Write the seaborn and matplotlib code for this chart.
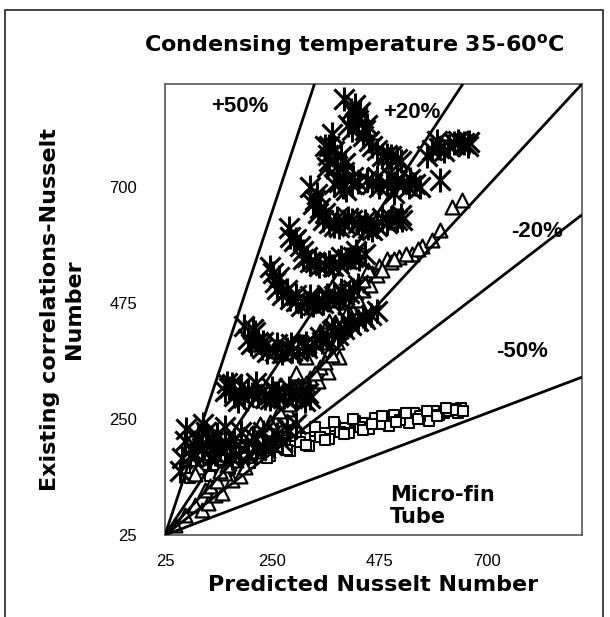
import numpy as np
import pandas as pd
import matplotlib
matplotlib.use("Agg")
import matplotlib.pyplot as plt
import seaborn as sns
from matplotlib.patches import Rectangle

# Smooth-tube style correlation (asterisks)
star_pred = [423, 427, 448, 418, 454, 469, 490, 511, 375, 366, 364, 343, 335,
             398, 418, 448, 475, 511, 538, 586, 601, 632, 653, 663, 402, 506,
             356, 391, 418, 439, 460, 511, 523,
             287, 308, 322, 349, 377, 406, 433,
             251, 259, 287, 322, 356, 391, 412,
             213, 199, 228, 255, 291, 324, 354, 387, 416, 458,
             165, 151, 178, 207, 234, 262, 291, 318,
             115, 102, 130, 165, 199, 234, 67, 77, 56,
             85, 95, 110, 125, 140, 150, 180, 215, 250, 270,
             160, 170, 190, 200, 220, 245, 255, 275, 300, 330,
             205, 220, 240, 270, 280, 305, 315, 340, 365, 375, 400, 430, 445,
             255, 270, 300, 310, 335, 345, 370, 380, 400, 420, 430,
             295, 315, 330, 360, 390, 420, 445,
             340, 345, 370, 380, 400, 430, 450, 470, 490, 500,
             380, 390, 405, 430, 460, 490, 525, 550, 560,
             370, 380, 395, 410, 435, 440, 460, 480, 500, 520, 600, 610, 640, 660,
             60, 70, 90, 105, 120, 135, 150, 170, 185, 210, 230, 260, 280, 300,
             155, 185, 215, 250, 285, 310, 325,
             190, 210, 230, 260, 290, 320, 350, 380, 410, 440, 470,
             245, 265, 280, 300, 330, 365, 395,
             285, 300, 315, 340, 370, 395, 425,
             330, 350, 360, 385, 410, 445, 480, 520,
             360, 370, 385, 400, 420, 470, 500, 540, 575, 595, 620, 400, 415,
             430, 445]
star_exist = [860, 835, 821, 810, 790, 771, 763, 754, 802, 763, 738, 687, 667,
              700, 706, 713, 700, 713, 700, 771, 713, 785, 785, 788, 746, 688,
              637, 623, 637, 623, 617, 637, 637,
              604, 585, 565, 546, 546, 560, 560,
              533, 502, 483, 475, 475, 483, 494,
              419, 406, 387, 381, 381, 387, 400, 413, 433, 452,
              317, 304, 285, 298, 290, 298, 298, 285,
              213, 194, 183, 175, 183, 194, 208, 179, 150,
              200, 215, 225, 205, 190, 200, 180, 190, 200, 205,
              310, 295, 292, 305, 295, 288, 300, 292, 292, 290,
              395, 400, 380, 378, 385, 382, 392, 395, 405, 420, 425, 440, 445,
              515, 490, 478, 470, 472, 478, 480, 488, 490, 500, 510,
              595, 575, 555, 548, 550, 565, 570,
              675, 650, 630, 625, 630, 630, 620, 625, 630, 640,
              705, 710, 695, 710, 705, 705, 710, 705, 700,
              780, 770, 760, 820, 845, 800, 780, 760, 760, 750, 775, 770, 790, 780,
              175, 230, 180, 240, 175, 220, 235, 210, 225, 215, 225, 220, 230, 240,
              320, 315, 320, 310, 310, 305, 300,
              430, 425, 400, 395, 395, 398, 410, 425, 440, 450, 460,
              545, 525, 500, 490, 488, 490, 500,
              620, 600, 560, 555, 555, 565, 575,
              700, 660, 650, 640, 640, 635, 640, 645,
              780, 750, 740, 730, 720, 720, 720, 715, 760, 790, 780, 870, 850,
              830, 810]

# Second correlation (open triangles)
tri_pred = [46, 67, 88, 102, 115, 130, 144, 165, 182, 192, 213, 234, 255, 270,
            291, 318, 345, 366, 391, 427, 448, 460, 475, 490, 517, 544, 565,
            586, 601, 628, 649, 381, 402, 412, 360, 94, 88, 109,
            120, 135, 150, 160, 175, 190, 200, 220, 240, 260, 280, 300, 310,
            330, 350, 370, 385, 395, 420, 430, 440, 455, 470, 500, 530, 555,
            140, 155, 170, 185, 205, 225, 245, 265, 285, 305, 320, 340, 360,
            375, 400, 410, 420, 440, 450, 480, 505, 350, 370, 320, 300]
tri_exist = [44, 63, 83, 73, 87, 102, 106, 131, 140, 156, 188, 208, 223, 233,
             252, 298, 323, 342, 371, 508, 521, 533, 546, 560, 565, 571, 585,
             598, 617, 662, 675, 438, 467, 477, 400, 156, 144, 112,
             120, 130, 145, 165, 170, 185, 200, 215, 230, 250, 270, 290, 300,
             330, 350, 380, 400, 420, 460, 480, 500, 510, 530, 555, 570, 580,
             150, 160, 180, 200, 220, 240, 245, 265, 280, 310, 320, 340, 360,
             375, 440, 460, 500, 520, 540, 540, 560, 420, 440, 370, 340]

# Third correlation (open squares)
sq_pred = [67, 88, 109, 130, 151, 172, 192, 213, 234, 255, 276, 297, 318, 339,
           360, 381, 402, 423, 444, 465, 485, 506, 527, 548, 569, 590, 611,
           632, 647,
           77, 119, 161, 203, 245, 287, 328, 370, 412, 454, 496, 538, 580,
           98, 140, 182, 224, 266, 308, 350, 392, 434, 476, 518, 560, 600,
           620, 640,
           110, 125, 145, 165, 185, 200, 220, 240, 260, 280, 300, 320, 340,
           360, 380, 400, 420, 440, 460, 480, 510, 530, 555, 575, 595, 615,
           635, 650]
sq_exist = [150, 169, 160, 179, 169, 188, 185, 198, 194, 208, 204, 217, 213,
            227, 223, 237, 233, 246, 242, 252, 246, 258, 252, 262, 258, 265,
            262, 269, 271,
            135, 140, 154, 165, 179, 188, 198, 212, 223, 231, 237, 242, 246,
            180, 170, 175, 185, 195, 205, 215, 225, 235, 240, 248, 255, 258,
            265, 262,
            195, 160, 190, 165, 200, 175, 200, 175, 215, 190, 225, 200, 235,
            210, 245, 220, 250, 228, 240, 255, 245, 262, 250, 265, 255, 272,
            268, 265]

# Deviation bands: label and ratio of existing to predicted, measured from (25, 25)
band_labels = ["+50%", "+20%", "", "-20%", "-50%"]
band_slopes = [2.79, 1.40, 1.0, 0.71, 0.35]

axis_ticks = [25, 250, 475, 700]
axis_min, axis_max = 25, 900

sns.set_style("white")
plt.rcParams["font.family"] = ["Liberation Sans", "DejaVu Sans"]
plt.rcParams["text.color"] = "black"
plt.rcParams["axes.labelcolor"] = "black"
plt.rcParams["xtick.color"] = "black"
plt.rcParams["ytick.color"] = "black"

fig = plt.figure(figsize=(6.10, 6.17), dpi=100)
ax = fig.add_axes([0.2705, 0.1329, 0.6836, 0.7310])

# outer frame of the chart area
fig.patches.append(Rectangle((5 / 610, -0.05), 598 / 610, 1.05 - 10 / 617,
                             transform=fig.transFigure, fill=False,
                             edgecolor="#222222", linewidth=1.2))

stars = pd.DataFrame({"pred": star_pred, "exist": star_exist})
tris = pd.DataFrame({"pred": tri_pred, "exist": tri_exist})
sqs = pd.DataFrame({"pred": sq_pred, "exist": sq_exist})

sns.scatterplot(data=sqs, x="pred", y="exist", ax=ax, marker="s", s=60,
                facecolor="white", edgecolor="black", linewidth=1.5, zorder=3)
sns.scatterplot(data=tris, x="pred", y="exist", ax=ax, marker="^", s=100,
                facecolor="white", edgecolor="black", linewidth=1.6, zorder=3)
sns.scatterplot(data=stars, x="pred", y="exist", ax=ax, marker="x", s=210,
                color="black", linewidth=2.2, zorder=4)
sns.scatterplot(data=stars, x="pred", y="exist", ax=ax, marker="|", s=290,
                color="black", linewidth=2.2, zorder=4)

span = axis_max - axis_min
for k in band_slopes:
    x_end = min(axis_max, axis_min + span / k)
    y_end = axis_min + k * (x_end - axis_min)
    ax.plot([axis_min, x_end], [axis_min, y_end], color="black", lw=2.0,
            zorder=5, solid_capstyle="butt")

ax.set_xlim(axis_min, axis_max)
ax.set_ylim(axis_min, axis_max)
ax.set_xticks(axis_ticks)
ax.set_yticks(axis_ticks)
ax.set_xticklabels([str(t) for t in axis_ticks], fontsize=12)
ax.set_yticklabels([str(t) for t in axis_ticks], fontsize=12)
ax.tick_params(axis="both", direction="out", length=4, width=1,
               color="#333333")
ax.tick_params(axis="x", pad=10)
ax.tick_params(axis="y", pad=16)
for side in ["left", "bottom", "right", "top"]:
    ax.spines[side].set_color("#555555")
    ax.spines[side].set_linewidth(1.2)

ax.set_xlabel("Predicted Nusselt Number", fontsize=16, fontweight="bold",
              family="DejaVu Sans", labelpad=4)
ax.set_ylabel("Existing correlations-Nusselt\nNumber", fontsize=16,
              fontweight="bold", family="DejaVu Sans", labelpad=18,
              linespacing=1.25)
fig.text(0.58, 0.927, "Condensing temperature 35-60$^\\mathregular{o}$C",
         ha="center", va="center", fontsize=16, fontweight="bold",
         family="DejaVu Sans")

label_pos = {"+50%": (0.18, 0.949), "+20%": (0.592, 0.936),
             "-20%": (0.892, 0.672), "-50%": (0.856, 0.406)}
for lab in band_labels:
    if lab:
        ax.text(*label_pos[lab], lab, transform=ax.transAxes, ha="center",
                va="center", fontsize=16, fontweight="bold", zorder=6)

ax.text(0.54, 0.064, "Micro-fin\nTube", transform=ax.transAxes, ha="left",
        va="center", fontsize=15, fontweight="bold", family="DejaVu Sans",
        linespacing=1.1)

fig.savefig("out.png", dpi=100)
